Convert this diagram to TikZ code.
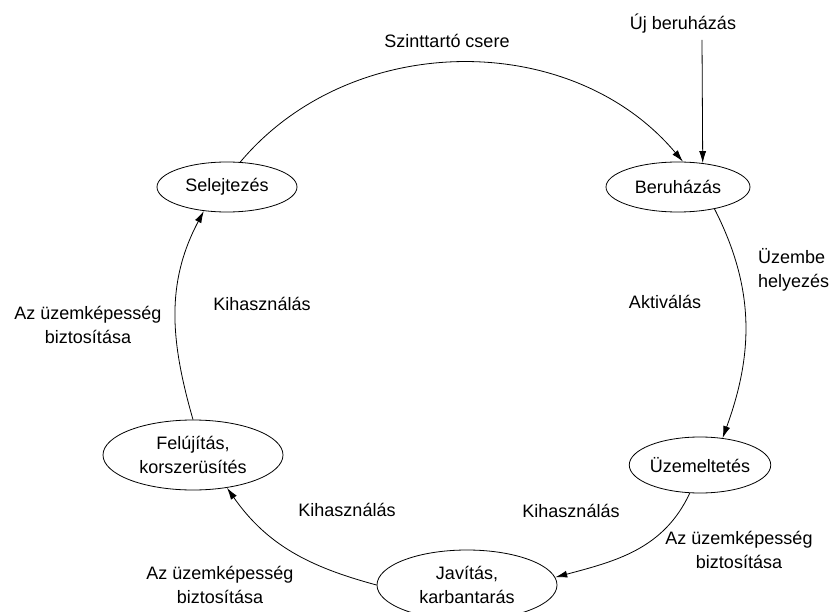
\documentclass[tikz,border=0pt]{standalone}
\usepackage{fontspec}
\setmainfont{Liberation Sans}
\usetikzlibrary{arrows.meta}
\usetikzlibrary{shapes}
\tikzset{
	edge/.style={->,> = {Latex[length=12pt,width=7pt]}, line width=0.8pt}
}
\tikzset{
	phase/.style={ellipse, draw, line width=0.8pt, inner sep=0pt, align=center},
	lbl/.style={align=center, inner sep=0pt}
}

\begin{document}
\begin{tikzpicture}[x=1pt, y=-1pt, font=\fontsize{18}{24}\selectfont]
\useasboundingbox (0,0) rectangle (837,612);
\clip (0,0) rectangle (837,612);

% eletciklus fazisai
\node[phase, minimum width=140pt, minimum height=50pt] (SEL) at (227,187) {Selejtezés};
\node[phase, minimum width=144pt, minimum height=50pt] (BER) at (678,187) {Beruházás};
\node[phase, minimum width=136pt, minimum height=56pt] (UZE) at (700,465) {Üzemeltetés};
\node[phase, minimum width=180pt, minimum height=70pt] (JAV) at (467,585) {Javítás,\\karbantarás};
\node[phase, minimum width=180pt, minimum height=70pt] (FEL) at (193,455) {Felújítás,\\korszerüsítés};

% feliratok
\node[lbl] (SZI) at (447,41) {Szinttartó csere};
\node[lbl] (UJB) at (683,24) {Új beruházás};
\node[lbl, align=left, anchor=west] (UHE) at (758,270) {Üzembe\\helyezés};
\node[lbl] (AKT) at (665,302) {Aktiválás};
\node[lbl] (KH1) at (262,304) {Kihasználás};
\node[lbl] (BZ1) at (88,325) {Az üzemképesség\\biztosítása};
\node[lbl] (KH2) at (347,510) {Kihasználás};
\node[lbl] (KH3) at (571,511) {Kihasználás};
\node[lbl] (BZ3) at (739,550) {Az üzemképesség\\biztosítása};
\node[lbl] (BZ2) at (220,585) {Az üzemképesség\\biztosítása};
\coordinate (UJA) at (702,40);

\draw[edge] (SEL.62) to[out=50, in=130] (BER.79);
\draw[edge] (UJA) -- (BER.44.5);
\draw[edge] (BER.-31) to[out=-63, in=70] (UZE.50);
\draw[edge] (UZE.250) to[out=-115, in=15] (JAV.5);
\draw[edge] (JAV.west) to[out=165, in=-55] (FEL.-44);
\draw[edge] (FEL.north) to[out=106, in=-118] (SEL.226);
\end{tikzpicture}
\end{document}
